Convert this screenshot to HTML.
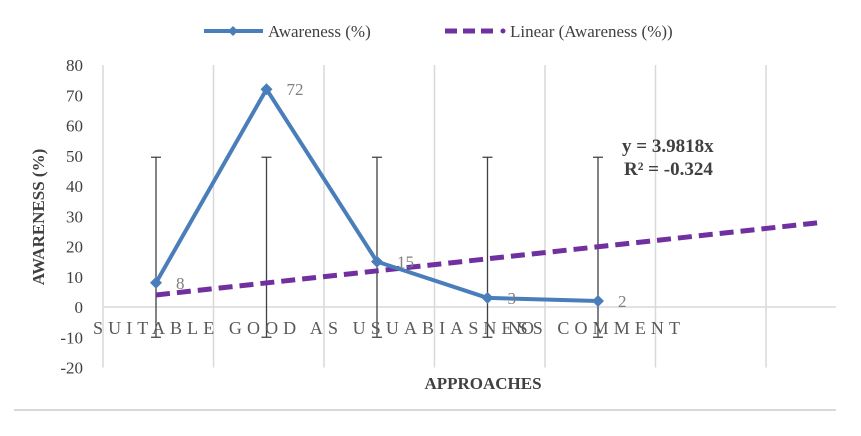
<!DOCTYPE html>
<html><head><meta charset="utf-8"><style>
body{margin:0;background:#fff;width:861px;height:436px;overflow:hidden}
svg{display:block;font-family:"Liberation Serif",serif}
</style></head><body>
<svg width="861" height="436">
<g id="grid"></g><g id="marks"></g>
<g>
<line x1="204" y1="31" x2="263" y2="31" stroke="#4a7ebb" stroke-width="4"/>
<path d="M233 26 L238 31 L233 36 L228 31Z" fill="#4a7ebb"/>
<text x="268" y="37" font-size="17" fill="#404040">Awareness (%)</text>
<line x1="445" y1="31" x2="493" y2="31" stroke="#7030a0" stroke-width="5" stroke-dasharray="12,6"/>
<circle cx="503" cy="31" r="2.5" fill="#7030a0"/>
<text x="510" y="37" font-size="17" fill="#404040">Linear (Awareness (%))</text>
</g>
<text x="622" y="152" font-size="19" font-weight="bold" fill="#404040">y = 3.9818x</text>
<text x="624" y="175" font-size="19" font-weight="bold" fill="#404040">R² = -0.324</text>
<text x="483" y="389" font-size="17" font-weight="bold" fill="#404040" text-anchor="middle">APPROACHES</text>
<text transform="translate(44,217) rotate(-90)" font-size="17" font-weight="bold" fill="#404040" text-anchor="middle">AWARENESS (%)</text>
<text x="93" y="334" font-size="18" fill="#595959" textLength="587">SUITABLE GOOD AS USUABIASNESS COMMENT</text>
<text x="508" y="334" font-size="18" fill="#595959">NO</text>
<line x1="14" y1="410" x2="836" y2="410" stroke="#d9d9d9" stroke-width="2"/>
</svg>
<script>
const categories=["SUITABLE","GOOD","AS USUAL","BIASNESS","NO COMMENT"];
const values=[8,72,15,3,2];
const yTicks=[80,70,60,50,40,30,20,10,0,-10,-20];
const errHigh=[49.5,49.5,49.5,49.5,49.5];
const errLow=[-10,-10,-10,-10,-10];
const trendSlope=3.9818;
const trendRange=[1,7];
const NS="http://www.w3.org/2000/svg";
const y=v=>307-v*3.025;
const x=i=>156+(i-1)*110.5;
const grid=document.getElementById('grid'),marks=document.getElementById('marks');
function mk(p,tag,a){const e=document.createElementNS(NS,tag);for(const k in a)e.setAttribute(k,a[k]);p.appendChild(e);return e;}
for(let g=0;g<7;g++){const gx=103+g*110.5;const l=mk(grid,'line',{x1:gx,y1:y(80),x2:gx,y2:y(-20),stroke:'#d9d9d9','stroke-width':1.5});

}
const ax=mk(grid,'line',{x1:103,y1:y(0),x2:836,y2:y(0),stroke:'#d9d9d9','stroke-width':1.5});


yTicks.forEach(t=>{const e=mk(grid,'text',{x:83,y:y(t)+6,'font-size':17,fill:'#404040','text-anchor':'end'});e.textContent=t;

});
values.forEach((v,i)=>{const cx=x(i+1);
const eb=mk(marks,'path',{d:`M${cx} ${y(errHigh[i])}V${y(errLow[i])}M${cx-5} ${y(errHigh[i])}h10M${cx-5} ${y(errLow[i])}h10`,stroke:'#404040','stroke-width':1.3,fill:'none'});

});
const tr=mk(marks,'line',{x1:x(trendRange[0]),y1:y(trendSlope*trendRange[0]),x2:x(trendRange[1]),y2:y(trendSlope*trendRange[1]),stroke:'#7030a0','stroke-width':5,'stroke-dasharray':'14,7'});


const ln=mk(marks,'polyline',{points:values.map((v,i)=>x(i+1)+','+y(v)).join(' '),fill:'none',stroke:'#4a7ebb','stroke-width':4,'stroke-linejoin':'round'});


values.forEach((v,i)=>{const cx=x(i+1),cy=y(v);
const m=mk(marks,'path',{d:`M${cx} ${cy-6}L${cx+6} ${cy}L${cx} ${cy+6}L${cx-6} ${cy}Z`,fill:'#4a7ebb'});


const t=mk(marks,'text',{x:cx+20,y:cy+6,'font-size':17,fill:'#7f7f7f'});t.textContent=v;

});
</script>
</body></html>
